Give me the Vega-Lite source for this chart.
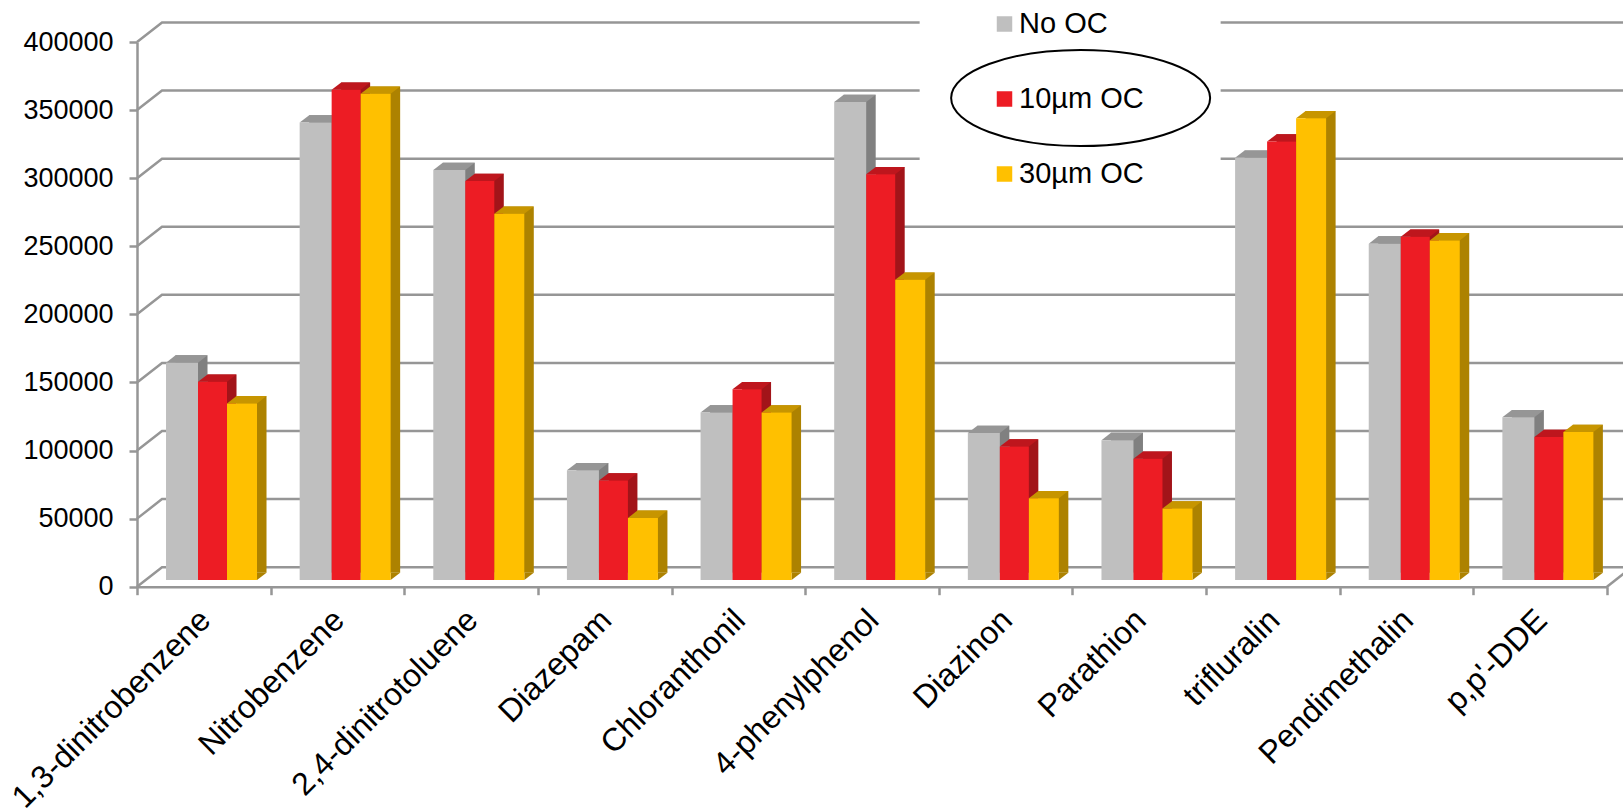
{"$schema":"https://vega.github.io/schema/vega-lite/v6.json","width":1470,"height":544.7,"autosize":{"type":"none"},"padding":{"left":137,"top":42,"right":16,"bottom":222.3},"background":"white","config":{"view":{"stroke":null},"font":"Liberation Sans"},
"data":{"values":[
{"compound":"1,3-dinitrobenzene","series":"No OC","value":159600},{"compound":"1,3-dinitrobenzene","series":"10µm OC","value":145600},{"compound":"1,3-dinitrobenzene","series":"30µm OC","value":129700},
{"compound":"Nitrobenzene","series":"No OC","value":336000},{"compound":"Nitrobenzene","series":"10µm OC","value":360000},{"compound":"Nitrobenzene","series":"30µm OC","value":357000},
{"compound":"2,4-dinitrotoluene","series":"No OC","value":301000},{"compound":"2,4-dinitrotoluene","series":"10µm OC","value":293000},{"compound":"2,4-dinitrotoluene","series":"30µm OC","value":269000},
{"compound":"Diazepam","series":"No OC","value":80600},{"compound":"Diazepam","series":"10µm OC","value":73000},{"compound":"Diazepam","series":"30µm OC","value":45600},
{"compound":"Chloranthonil","series":"No OC","value":123000},{"compound":"Chloranthonil","series":"10µm OC","value":140000},{"compound":"Chloranthonil","series":"30µm OC","value":123000},
{"compound":"4-phenylphenol","series":"No OC","value":351000},{"compound":"4-phenylphenol","series":"10µm OC","value":298000},{"compound":"4-phenylphenol","series":"30µm OC","value":220500},
{"compound":"Diazinon","series":"No OC","value":108000},{"compound":"Diazinon","series":"10µm OC","value":98000},{"compound":"Diazinon","series":"30µm OC","value":60000},
{"compound":"Parathion","series":"No OC","value":102700},{"compound":"Parathion","series":"10µm OC","value":89000},{"compound":"Parathion","series":"30µm OC","value":52500},
{"compound":"trifluralin","series":"No OC","value":310000},{"compound":"trifluralin","series":"10µm OC","value":322000},{"compound":"trifluralin","series":"30µm OC","value":339000},
{"compound":"Pendimethalin","series":"No OC","value":247000},{"compound":"Pendimethalin","series":"10µm OC","value":252000},{"compound":"Pendimethalin","series":"30µm OC","value":249400},
{"compound":"p,p'-DDE","series":"No OC","value":119500},{"compound":"p,p'-DDE","series":"10µm OC","value":105000},{"compound":"p,p'-DDE","series":"30µm OC","value":108700}
]},
"encoding":{
"x":{"field":"compound","type":"nominal","title":null,"scale":{"type":"band","domain":["1,3-dinitrobenzene","Nitrobenzene","2,4-dinitrotoluene","Diazepam","Chloranthonil","4-phenylphenol","Diazinon","Parathion","trifluralin","Pendimethalin","p,p'-DDE"],"paddingInner":0,"paddingOuter":0},"axis":{"labelAngle":-45,"labelAlign":"right","labelBaseline":"middle","labelFontSize":32,"labelFont":"Liberation Sans","labelColor":"#000000","labelPadding":20,"labelOffset":1,"labelLimit":500,"labelOverlap":false,"tickBand":"extent","tickSize":8,"tickWidth":2.5,"tickColor":"#969696","domainColor":"#969696","domainWidth":2.5,"grid":false}},
"y":{"field":"value","type":"quantitative","title":null,"scale":{"domain":[0,400000],"nice":false,"zero":true},"axis":{"values":[0,50000,100000,150000,200000,250000,300000,350000,400000],"format":"d","labelFontSize":27,"labelFont":"Liberation Sans","labelColor":"#000000","labelPadding":16,"tickSize":8,"tickWidth":2.5,"tickColor":"#969696","domainColor":"#969696","domainWidth":2.5,"grid":false}}
},
"layer":[
{"data":{"values":[{"level":0},{"level":50000},{"level":100000},{"level":150000},{"level":200000},{"level":250000},{"level":300000},{"level":350000},{"level":400000}]},
 "mark":{"type":"point","shape":"M-66.8,0 L-41.8,-19.5 H1428","size":4,"filled":false,"stroke":"#969696","strokeWidth":2.5,"opacity":1},
 "encoding":{"x":{"datum":"1,3-dinitrobenzene","type":"nominal"},"y":{"field":"level","type":"quantitative"}}},
{"data":{"values":[{"level":0}]},
 "mark":{"type":"point","shape":"M66.8,0 L91.8,-19.5","size":4,"filled":false,"stroke":"#969696","strokeWidth":2.5,"opacity":1},
 "encoding":{"x":{"datum":"p,p'-DDE","type":"nominal"},"y":{"field":"level","type":"quantitative"}}},
{"data":{"values":[{"level":400000}]},
 "mark":{"type":"point","shape":"M-86,-60 H215 V150 H-86 Z","size":4,"filled":true,"fill":"#ffffff","opacity":1,"strokeWidth":0},
 "encoding":{"x":{"datum":"Diazinon","type":"nominal"},"y":{"field":"level","type":"quantitative"}}},
{"data":{"values":[{"level":400000}]},
 "mark":{"type":"point","shape":"M-54.5,56 A129.5,48 0 1 0 204.5,56 A129.5,48 0 1 0 -54.5,56 Z","size":4,"filled":false,"stroke":"#000000","strokeWidth":2,"opacity":1},
 "encoding":{"x":{"datum":"Diazinon","type":"nominal"},"y":{"field":"level","type":"quantitative"}}},

{"transform":[{"filter":"datum.series=='No OC'"}],"mark":{"type":"bar","width":32,"fill":"#808080","xOffset":-12.3,"yOffset":-14,"y2Offset":-14},"encoding":{"y2":{"datum":0}}},
{"transform":[{"filter":"datum.series=='No OC'"}],"mark":{"type":"point","shape":"M16,0 L25.5,-7.3 L16,-7.3 Z","size":4,"filled":true,"fill":"#808080","opacity":1,"xOffset":-21.8,"yOffset":-6.7},"encoding":{"y":{"datum":0,"type":"quantitative"}}},
{"transform":[{"filter":"datum.series=='No OC'"}],"mark":{"type":"point","shape":"M-16,0 L16,0 L25.5,-7.3 L-6.5,-7.3 Z","size":4,"filled":true,"fill":"#969696","opacity":1,"xOffset":-21.8,"yOffset":-6.7}},
{"transform":[{"filter":"datum.series=='No OC'"}],"mark":{"type":"bar","width":32,"xOffset":-21.8,"yOffset":-6.7,"y2Offset":-6.7},"encoding":{"y2":{"datum":0},"color":{"field":"series","type":"nominal","sort":["No OC","10µm OC","30µm OC"],"scale":{"domain":["No OC","10µm OC","30µm OC"],"range":["#bfbfbf","#ed1c24","#ffc000"]},"legend":{"orient":"none","legendX":853,"legendY":-32.5,"title":null,"symbolType":"square","symbolSize":240,"symbolOpacity":1,"labelFontSize":29,"labelFont":"Liberation Sans","labelColor":"#000000","labelOffset":0,"rowPadding":45,"padding":0}}}},

{"transform":[{"filter":"datum.series=='10µm OC'"}],"mark":{"type":"bar","width":29,"fill":"#a21419","xOffset":18.2,"yOffset":-14,"y2Offset":-14},"encoding":{"y2":{"datum":0}}},
{"transform":[{"filter":"datum.series=='10µm OC'"}],"mark":{"type":"point","shape":"M14.5,0 L24,-7.3 L14.5,-7.3 Z","size":4,"filled":true,"fill":"#a21419","opacity":1,"xOffset":8.7,"yOffset":-6.7},"encoding":{"y":{"datum":0,"type":"quantitative"}}},
{"transform":[{"filter":"datum.series=='10µm OC'"}],"mark":{"type":"point","shape":"M-14.5,0 L14.5,0 L24,-7.3 L-5,-7.3 Z","size":4,"filled":true,"fill":"#be161d","opacity":1,"xOffset":8.7,"yOffset":-6.7}},
{"transform":[{"filter":"datum.series=='10µm OC'"}],"mark":{"type":"bar","width":29,"xOffset":8.7,"yOffset":-6.7,"y2Offset":-6.7},"encoding":{"y2":{"datum":0},"color":{"field":"series","type":"nominal","sort":["No OC","10µm OC","30µm OC"]}}},

{"transform":[{"filter":"datum.series=='30µm OC'"}],"mark":{"type":"bar","width":30,"fill":"#ad8200","xOffset":47.7,"yOffset":-14,"y2Offset":-14},"encoding":{"y2":{"datum":0}}},
{"transform":[{"filter":"datum.series=='30µm OC'"}],"mark":{"type":"point","shape":"M15,0 L24.5,-7.3 L15,-7.3 Z","size":4,"filled":true,"fill":"#ad8200","opacity":1,"xOffset":38.2,"yOffset":-6.7},"encoding":{"y":{"datum":0,"type":"quantitative"}}},
{"transform":[{"filter":"datum.series=='30µm OC'"}],"mark":{"type":"point","shape":"M-15,0 L15,0 L24.5,-7.3 L-5.5,-7.3 Z","size":4,"filled":true,"fill":"#c79500","opacity":1,"xOffset":38.2,"yOffset":-6.7}},
{"transform":[{"filter":"datum.series=='30µm OC'"}],"mark":{"type":"bar","width":30,"xOffset":38.2,"yOffset":-6.7,"y2Offset":-6.7},"encoding":{"y2":{"datum":0},"color":{"field":"series","type":"nominal","sort":["No OC","10µm OC","30µm OC"]}}}
]}
